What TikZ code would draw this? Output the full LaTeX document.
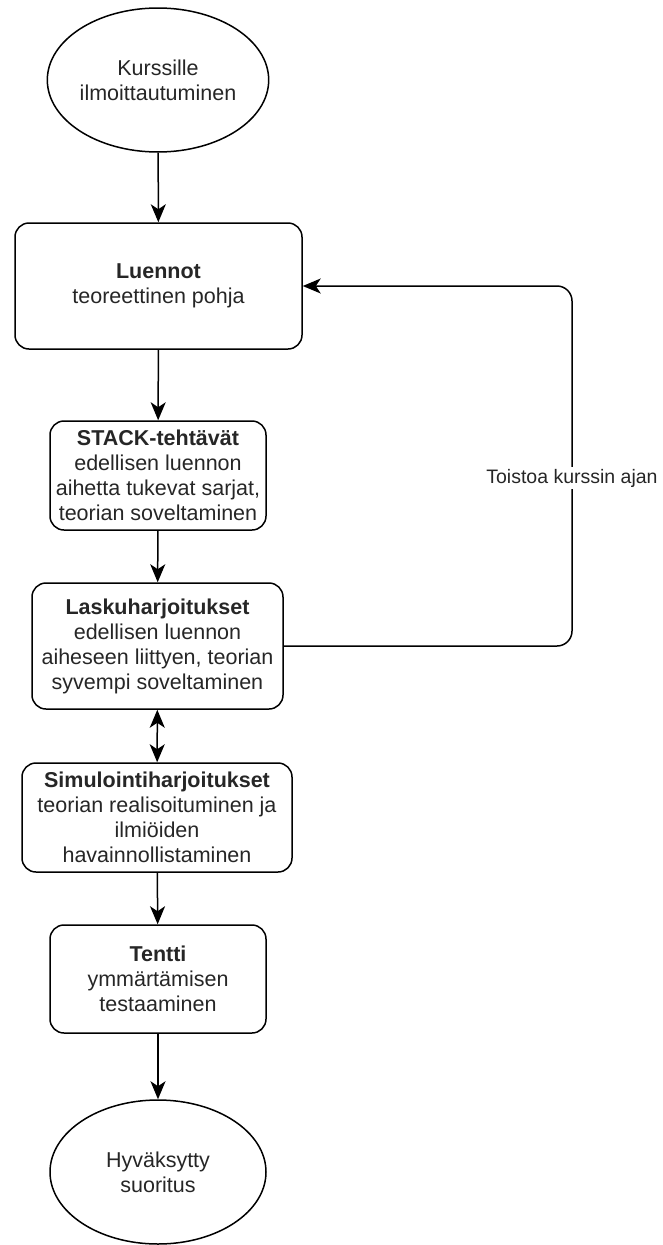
\documentclass[tikz,border=0pt]{standalone}
\usepackage{fontspec}
\setmainfont{Liberation Sans}
\usetikzlibrary{arrows.meta,shapes.geometric}
\begin{document}
\begin{tikzpicture}[x=1pt,y=-1pt,
  >={Stealth[length=18pt,width=15pt,inset=5pt]},
  every node/.style={font=\fontsize{21.5}{25}\selectfont, text=black!85, align=center, inner sep=0pt},
  stepbox/.style 2 args={draw=black, line width=1.5pt, rounded corners=14pt,
    rectangle, minimum width=#1, minimum height=#2},
  terminal/.style={draw=black, line width=1.5pt, ellipse, minimum width=216pt, minimum height=144pt},
  flow/.style={draw=black, line width=1.5pt, ->},
  looplabel/.style={fill=white, inner sep=2pt, font=\fontsize{19.5}{23}\selectfont}]

% page frame
\path[use as bounding box] (0,0) rectangle (662,1245);

% main sequence
\node[terminal] (start) at (158,80) {Kurssille\\ilmoittautuminen};
\node[stepbox={287pt}{126pt}] (luennot) at (158.5,286) {\textbf{Luennot}\\teoreettinen pohja};
\node[stepbox={216pt}{109pt}] (stack) at (158,475.5) {\textbf{STACK-tehtävät}\\edellisen luennon\\aihetta tukevat sarjat,\\teorian soveltaminen};
\node[stepbox={251pt}{126pt}] (lasku) at (157.5,646) {\textbf{Laskuharjoitukset}\\edellisen luennon\\aiheseen liittyen, teorian\\syvempi soveltaminen};
\node[stepbox={270pt}{109pt}] (simu) at (157,817.5) {\textbf{Simulointiharjoitukset}\\teorian realisoituminen ja\\ilmiöiden\\havainnollistaminen};
\node[stepbox={216pt}{108pt}] (tentti) at (158,979) {\textbf{Tentti}\\ymmärtämisen\\testaaminen};
\node[terminal] (end) at (158,1172) {Hyväksytty\\suoritus};

% connectors
\draw[flow] (start) -- (luennot);
\draw[flow] (luennot) -- (stack);
\draw[flow] (stack) -- (lasku);
\draw[flow,<->] (lasku) -- (simu);
\draw[flow] (simu) -- (tentti);
\draw[flow] (tentti) -- (end);

% repeat loop back to the lectures
\coordinate (loop) at (572,466);
\draw[flow, rounded corners=15pt] (lasku.east) -- (lasku.east -| loop) -- (luennot.east -| loop) -- (luennot.east);
\node[looplabel] (lbl) at (572,478) {Toistoa kurssin ajan};
\end{tikzpicture}
\end{document}
